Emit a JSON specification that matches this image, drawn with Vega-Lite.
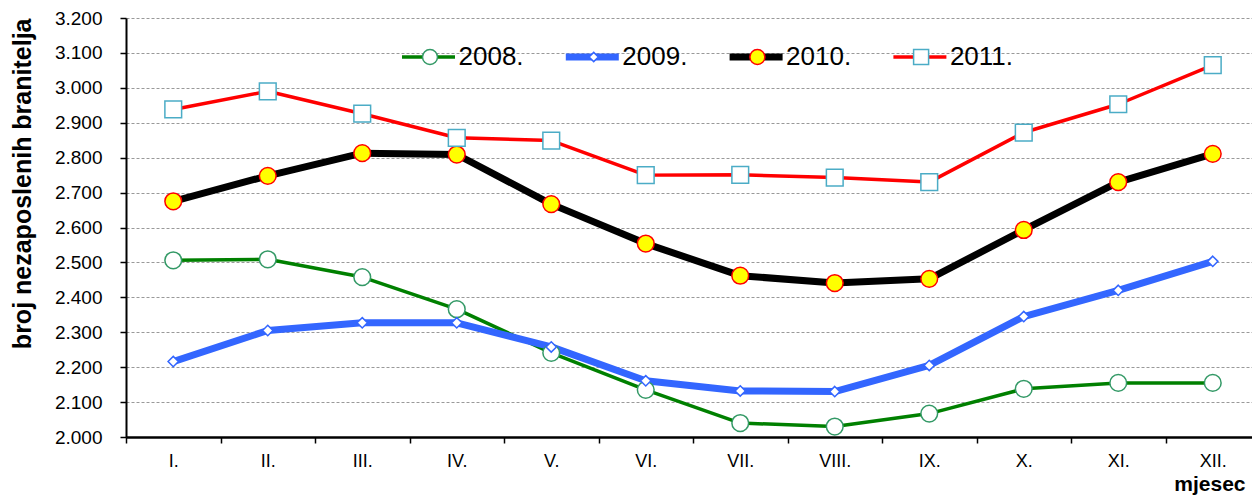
{
  "$schema": "https://vega.github.io/schema/vega-lite/v6.json",
  "width": 1126,
  "height": 419,
  "autosize": {"type": "none"},
  "padding": {"left": 126, "top": 18, "right": 0, "bottom": 64},
  "background": "white",
  "config": {"view": {"stroke": null}, "font": "Liberation Sans"},
  "data": {"values": [
    {"month": "I.", "year": "2008.", "value": 2506}, {"month": "II.", "year": "2008.", "value": 2509}, {"month": "III.", "year": "2008.", "value": 2458}, {"month": "IV.", "year": "2008.", "value": 2366}, {"month": "V.", "year": "2008.", "value": 2241}, {"month": "VI.", "year": "2008.", "value": 2135}, {"month": "VII.", "year": "2008.", "value": 2040}, {"month": "VIII.", "year": "2008.", "value": 2030}, {"month": "IX.", "year": "2008.", "value": 2067}, {"month": "X.", "year": "2008.", "value": 2138}, {"month": "XI.", "year": "2008.", "value": 2155}, {"month": "XII.", "year": "2008.", "value": 2155},
    {"month": "I.", "year": "2009.", "value": 2216}, {"month": "II.", "year": "2009.", "value": 2305}, {"month": "III.", "year": "2009.", "value": 2327}, {"month": "IV.", "year": "2009.", "value": 2327}, {"month": "V.", "year": "2009.", "value": 2258}, {"month": "VI.", "year": "2009.", "value": 2161}, {"month": "VII.", "year": "2009.", "value": 2132}, {"month": "VIII.", "year": "2009.", "value": 2130}, {"month": "IX.", "year": "2009.", "value": 2205}, {"month": "X.", "year": "2009.", "value": 2345}, {"month": "XI.", "year": "2009.", "value": 2420}, {"month": "XII.", "year": "2009.", "value": 2503},
    {"month": "I.", "year": "2010.", "value": 2675}, {"month": "II.", "year": "2010.", "value": 2748}, {"month": "III.", "year": "2010.", "value": 2813}, {"month": "IV.", "year": "2010.", "value": 2809}, {"month": "V.", "year": "2010.", "value": 2667}, {"month": "VI.", "year": "2010.", "value": 2554}, {"month": "VII.", "year": "2010.", "value": 2462}, {"month": "VIII.", "year": "2010.", "value": 2441}, {"month": "IX.", "year": "2010.", "value": 2453}, {"month": "X.", "year": "2010.", "value": 2593}, {"month": "XI.", "year": "2010.", "value": 2730}, {"month": "XII.", "year": "2010.", "value": 2811},
    {"month": "I.", "year": "2011.", "value": 2938}, {"month": "II.", "year": "2011.", "value": 2990}, {"month": "III.", "year": "2011.", "value": 2926}, {"month": "IV.", "year": "2011.", "value": 2857}, {"month": "V.", "year": "2011.", "value": 2849}, {"month": "VI.", "year": "2011.", "value": 2750}, {"month": "VII.", "year": "2011.", "value": 2751}, {"month": "VIII.", "year": "2011.", "value": 2743}, {"month": "IX.", "year": "2011.", "value": 2730}, {"month": "X.", "year": "2011.", "value": 2872}, {"month": "XI.", "year": "2011.", "value": 2953}, {"month": "XII.", "year": "2011.", "value": 3065}
  ]},
  "encoding": {
    "x": {
      "field": "month", "type": "nominal",
      "sort": ["I.", "II.", "III.", "IV.", "V.", "VI.", "VII.", "VIII.", "IX.", "X.", "XI.", "XII."],
      "scale": {"type": "band", "range": [0, 1134], "paddingInner": 0, "paddingOuter": 0},
      "axis": {
        "title": "mjesec", "titleFont": "Liberation Sans", "titleFontSize": 21, "titleFontWeight": "bold", "titleColor": "black",
        "titleX": 1119, "titleY": 53, "titleAlign": "right", "titleBaseline": "alphabetic",
        "labelAngle": 0, "labelFontSize": 18, "labelColor": "black", "labelPadding": 9, "labelFont": "Liberation Sans",
        "tickBand": "extent", "tickSize": 6, "tickColor": "black", "tickWidth": 1.5,
        "domainColor": "black", "domainWidth": 2.5, "grid": false
      }
    },
    "y": {
      "field": "value", "type": "quantitative",
      "scale": {"domain": [2000, 3200], "nice": false, "zero": false},
      "axis": {
        "values": [2000, 2100, 2200, 2300, 2400, 2500, 2600, 2700, 2800, 2900, 3000, 3100, 3200],
        "labelExpr": "replace(format(datum.value, ','), ',', '.')",
        "title": "broj nezaposlenih branitelja", "titleFont": "Liberation Sans", "titleFontSize": 25, "titleFontWeight": "bold", "titleColor": "black",
        "titleAnchor": "end", "titlePadding": 19,
        "labelFontSize": 19, "labelColor": "black", "labelPadding": 18, "labelFont": "Liberation Sans",
        "tickSize": 6, "tickColor": "black", "tickWidth": 1.5,
        "domainColor": "black", "domainWidth": 2,
        "grid": true, "gridColor": "#999999", "gridDash": [3, 2], "gridWidth": 1
      }
    }
  },
  "layer": [
    {
      "mark": {"type": "line", "strokeJoin": "round"},
      "encoding": {
        "color": {
          "field": "year", "type": "nominal",
          "scale": {"range": ["#008000", "#3366FF", "#000000", "#FF0000"]},
          "legend": {
            "orient": "none", "legendX": 274, "legendY": 24, "direction": "horizontal", "columns": 4,
            "title": null, "symbolType": "stroke", "symbolSize": 2809, "symbolStrokeWidth": 3.5,
            "labelFont": "Liberation Sans", "labelFontSize": 26, "labelColor": "black",
            "labelOffset": 1.5, "columnPadding": 39.8, "clipHeight": 30, "padding": 0,
            "encode": {"symbols": {"update": {"strokeWidth": {"signal": "(datum.value === '2009.' || datum.value === '2010.' ? 7 : 3.5)"}}}}
          }
        },
        "strokeWidth": {
          "condition": {"test": "datum.year === '2009.' || datum.year === '2010.'", "value": 7},
          "value": 3.5
        }
      }
    },
    {
      "mark": {"type": "point", "filled": true, "strokeWidth": 1.5, "opacity": 1, "size": 280},
      "encoding": {
        "shape": {
          "field": "year", "type": "nominal",
          "scale": {"domain": ["2008.", "2009.", "2010.", "2011."], "range": ["circle", "M0,-0.62L0.62,0L0,0.62L-0.62,0Z", "circle", "square"]},
          "legend": {
            "orient": "none", "legendX": 291, "legendY": 24, "direction": "horizontal", "columns": 4,
            "title": null, "symbolStrokeWidth": 1.5, "symbolSize": 225,
            "labelExpr": "''", "labelFont": "Liberation Sans", "labelFontSize": 26,
            "labelOffset": 100, "columnPadding": 37.7, "clipHeight": 30, "padding": 0
          }
        },
        "fill": {
          "field": "year", "type": "nominal",
          "scale": {"domain": ["2008.", "2009.", "2010.", "2011."], "range": ["#FFFFFF", "#FFFFFF", "#FFFF00", "#FFFFFF"]}
        },
        "stroke": {
          "field": "year", "type": "nominal",
          "scale": {"domain": ["2008.", "2009.", "2010.", "2011."], "range": ["#339966", "#3366FF", "#FF0000", "#4BACC6"]}
        }
      }
    }
  ]
}
